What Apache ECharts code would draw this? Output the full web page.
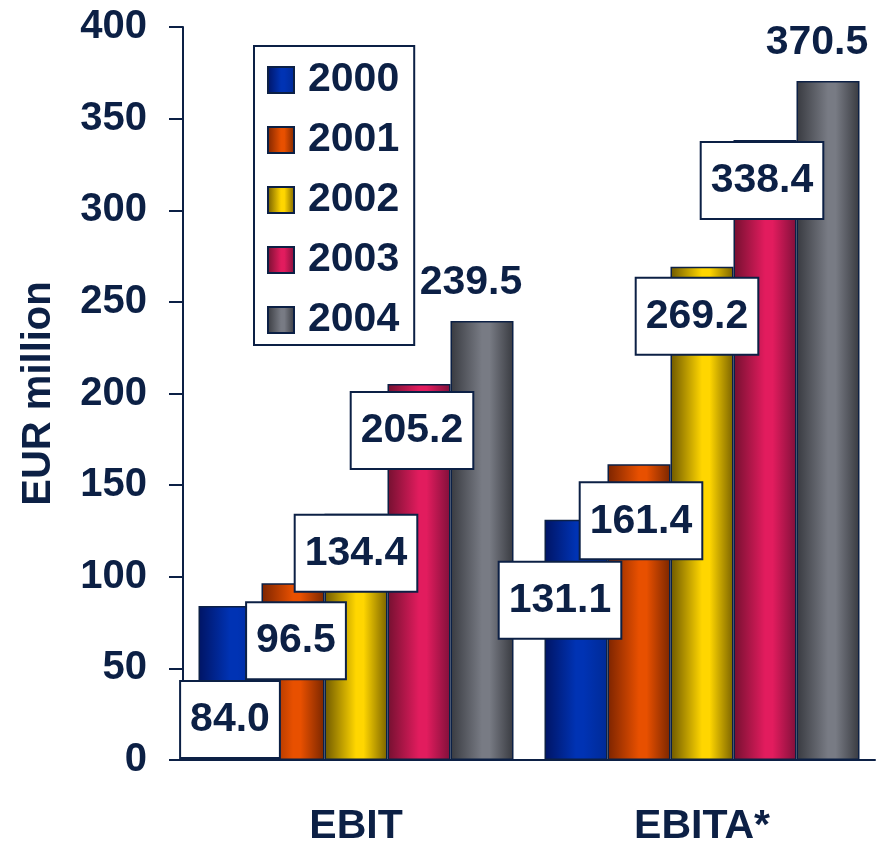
<!DOCTYPE html>
<html>
<head>
<meta charset="utf-8">
<script src="https://cdn.jsdelivr.net/npm/echarts@6/dist/echarts.min.js"></script>
<style>
    html, body { margin: 0; padding: 0; background: #fff; }
    #main { width: 887px; height: 847px; }
</style>
</head>
<body>
<div id="main"></div>
<script>
'use strict';
var categories = ['EBIT', 'EBITA*'];
var years = ['2000', '2001', '2002', '2003', '2004'];
var values2000 = [84.0, 131.1];
var values2001 = [96.5, 161.4];
var values2002 = [134.4, 269.2];
var values2003 = [205.2, 338.4];
var values2004 = [239.5, 370.5];
var allValues = [values2000, values2001, values2002, values2003, values2004];

var navy = '#0c2045';
var font = '"Liberation Sans", Arial, sans-serif';

// left, middle, right of each cylinder
var shades = [
    ['#001464', '#0033b4', '#002a96'],
    ['#7c2400', '#e85000', '#7a2600'],
    ['#6e5800', '#ffd600', '#7a6200'],
    ['#741030', '#e21c5e', '#80103a'],
    ['#383a40', '#787b84', '#383a40']
];

// label box placement per bar [dx, dy below bar top]
var labelShift = [
    [[0, 76], [-16, 43]],
    [[3, 20], [2, 19]],
    [[0, 2], [-5, 12]],
    [[-7, 9], [-3, 3]],
    null
];

function cylinder(s) {
    return new echarts.graphic.LinearGradient(0, 0, 1, 0, [
        { offset: 0, color: s[0] },
        { offset: 0.5, color: s[1] },
        { offset: 0.62, color: s[1] },
        { offset: 1, color: s[2] }
    ]);
}

var boxLabel = {
    show: true,
    position: 'insideTop',
    distance: 0,
    color: navy,
    fontFamily: font,
    fontWeight: 'bold',
    fontSize: 41,
    lineHeight: 42,
    backgroundColor: '#fff',
    borderColor: navy,
    borderWidth: 2,
    padding: [17, 9, 16, 9],
    formatter: function(p) { return p.value.toFixed(1); }
};

var series = years.map(function(year, i) {
    var data = allValues[i].map(function(v, j) {
        var item = { value: v };
        if (labelShift[i]) {
            item.label = { offset: labelShift[i][j] };
        }
        return item;
    });
    var label = labelShift[i] ? boxLabel : {
        show: true,
        position: 'top',
        distance: 18,
        offset: [-11, 0],
        color: navy,
        fontFamily: font,
        fontWeight: 'bold',
        fontSize: 41,
        formatter: function(p) { return p.value.toFixed(1); }
    };
    return {
        name: year,
        type: 'bar',
        barWidth: 63,
        barGap: '0%',
        itemStyle: {
            color: cylinder(shades[i]),
            borderColor: navy,
            borderWidth: 1.5
        },
        label: label,
        data: data
    };
});

var chart = echarts.init(document.getElementById('main'));
chart.setOption({
    animation: false,
    backgroundColor: '#fff',
    textStyle: { fontFamily: font },
    grid: { left: 183, right: 12, top: 27, bottom: 80 },
    legend: {
        orient: 'vertical',
        left: 254,
        top: 46,
        padding: [13, 15, 4, 13],
        itemWidth: 26,
        itemHeight: 26,
        itemGap: 18,
        icon: 'rect',
        backgroundColor: '#fff',
        borderColor: navy,
        borderWidth: 2,
        data: years,
        textStyle: {
            color: navy,
            fontWeight: 'bold',
            fontSize: 41,
            lineHeight: 42,
            padding: [0, 0, 0, 9]
        }
    },
    xAxis: {
        type: 'category',
        data: categories,
        axisLine: { lineStyle: { color: navy, width: 2 } },
        axisTick: { length: 13, lineStyle: { color: navy, width: 2 } },
        axisLabel: {
            color: navy,
            fontWeight: 'bold',
            fontSize: 41,
            margin: 46
        }
    },
    yAxis: {
        type: 'value',
        min: 0,
        max: 400,
        interval: 50,
        name: 'EUR million',
        nameLocation: 'middle',
        nameGap: 124,
        nameTextStyle: {
            color: navy,
            fontWeight: 'bold',
            fontSize: 40
        },
        splitLine: { show: false },
        axisLine: { show: true, lineStyle: { color: navy, width: 2 } },
        axisTick: { show: true, length: 14, lineStyle: { color: navy, width: 2 } },
        axisLabel: {
            color: navy,
            fontWeight: 'bold',
            fontSize: 40,
            margin: 36
        }
    },
    series: series
});
</script>
</body>
</html>
